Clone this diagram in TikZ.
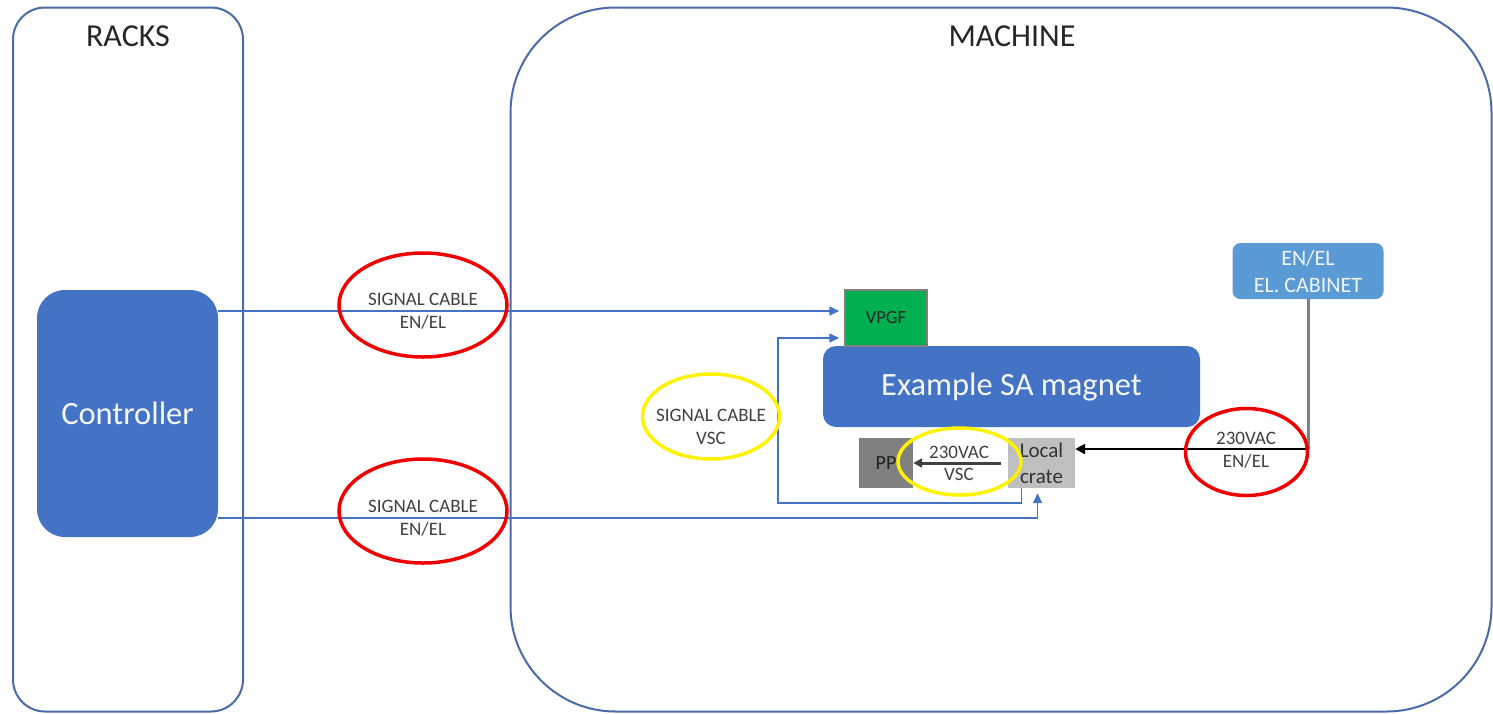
\documentclass[tikz,border=0pt]{standalone}
\usepackage{fontspec}
\setmainfont{Carlito}
\usetikzlibrary{shapes.geometric,arrows.meta}
\definecolor{framecol}{RGB}{74,106,168}
\definecolor{boxblue}{RGB}{68,114,196}
\definecolor{cabblue}{RGB}{91,155,213}
\definecolor{vpgfgreen}{RGB}{0,176,80}
\definecolor{ppgray}{RGB}{128,128,128}
\definecolor{crategray}{RGB}{191,191,191}
\definecolor{labgray}{RGB}{64,64,64}
\definecolor{ringred}{RGB}{240,0,0}
\definecolor{ringyellow}{RGB}{255,242,0}
\begin{document}
\begin{tikzpicture}[x=1pt,y=-1pt,
  area/.style={draw=framecol,line width=2pt,rectangle},
  title/.style={font=\fontsize{32}{36}\selectfont,text=black!85},
  bigbox/.style={fill=boxblue,rectangle,text=white!94!boxblue,font=\fontsize{32.5}{38}\selectfont},
  lab/.style={align=center,text=labgray,font=\fontsize{19}{22.5}\selectfont,inner sep=0pt},
  sig/.style={draw=boxblue,line width=1.5pt,-{Triangle[length=10pt,width=9pt]},shorten >=5pt},
  pow/.style={draw=black,line width=2.5pt,-{Triangle[length=10pt,width=10pt]}},
  ring/.style={ellipse,line width=3.5pt,inner sep=0pt},
]
\useasboundingbox (0,0) rectangle (1493,713);

% areas
\node[area,rounded corners=32pt,minimum width=230pt,minimum height=704pt] (racks) at (128,359.5) {};
\node[area,rounded corners=105pt,minimum width=981pt,minimum height=704pt] (machine) at (1001,359.5) {};
\node[title] (rackst) at (128,36) {RACKS};
\node[title] (machinet) at (1012,36) {MACHINE};

% equipment
\node[bigbox,rounded corners=28pt,minimum width=181pt,minimum height=247pt] (ctrl) at (127.5,413.5) {Controller};
\node[bigbox,rounded corners=13pt,minimum width=377pt,minimum height=81pt] (magnet) at (1011.5,386.5) {\raisebox{-3pt}{Example SA magnet}};
\node[rectangle,fill=vpgfgreen,draw=ppgray,line width=1.5pt,minimum width=82pt,minimum height=56pt,
      font=\fontsize{18.5}{21}\selectfont,text=black!85] (vpgf) at (886,318) {VPGF};
\node[rectangle,fill=ppgray,minimum width=54pt,minimum height=50pt,
      font=\fontsize{20}{24}\selectfont,text=black!88] (pp) at (886,463) {PP};
\node[rectangle,fill=crategray,minimum width=67pt,minimum height=50pt,align=center,
      font=\fontsize{21}{26}\selectfont,text=black!80,inner sep=0pt] (crate) at (1041.5,463) {Local\\crate};
\node[rectangle,fill=cabblue,rounded corners=8pt,minimum width=151pt,minimum height=56pt,align=center,
      font=\fontsize{22}{27}\selectfont,text=white!90!cabblue,inner sep=0pt] (cab) at (1308,271) {EN/EL\\EL. CABINET};

% cable labels
\node[lab] (lab1) at (423,311) {SIGNAL CABLE\\EN/EL};
\node[lab] (lab2) at (423,518) {SIGNAL CABLE\\EN/EL};
\node[lab] (lab3) at (711,427) {SIGNAL CABLE\\VSC};
\node[lab] (lab4) at (1246,450) {230VAC\\EN/EL};
\node[lab] (lab5) at (959,463.5) {230VAC\\VSC};

% signal cables
\coordinate (loopA) at (778,503);
\coordinate (feed) at (1308,449);
\draw[sig] (ctrl.east |- lab1) -- (vpgf.west |- lab1);
\draw[sig] (ctrl.east |- lab2) -| ([xshift=-4pt]crate.south);
\draw[sig] ([xshift=-20pt]crate.south) |- (loopA) |- ([yshift=-20pt]vpgf.west);

% mains supply
\draw[draw=ppgray,line width=3pt] (cab.south) -- (feed);
\draw[pow] (feed) -- (crate.east |- feed);
\draw[draw=labgray,line width=3pt,-{Triangle[length=9pt,width=9pt]}] ([xshift=-7pt]crate.west) -- (pp.east);

% highlight rings
\node[ring,draw=ringred,minimum width=168pt,minimum height=104pt] (r1) at (423,305) {};
\node[ring,draw=ringred,minimum width=168pt,minimum height=104pt] (r2) at (423,511) {};
\node[ring,draw=ringred,minimum width=122pt,minimum height=87pt] (r3) at (1246.5,452) {};
\node[ring,draw=ringyellow,minimum width=123pt,minimum height=67pt] (y1) at (959.5,461.5) {};
\node[ring,draw=ringyellow,minimum width=137pt,minimum height=85pt] (y2) at (711,416.5) {};
\end{tikzpicture}
\end{document}
